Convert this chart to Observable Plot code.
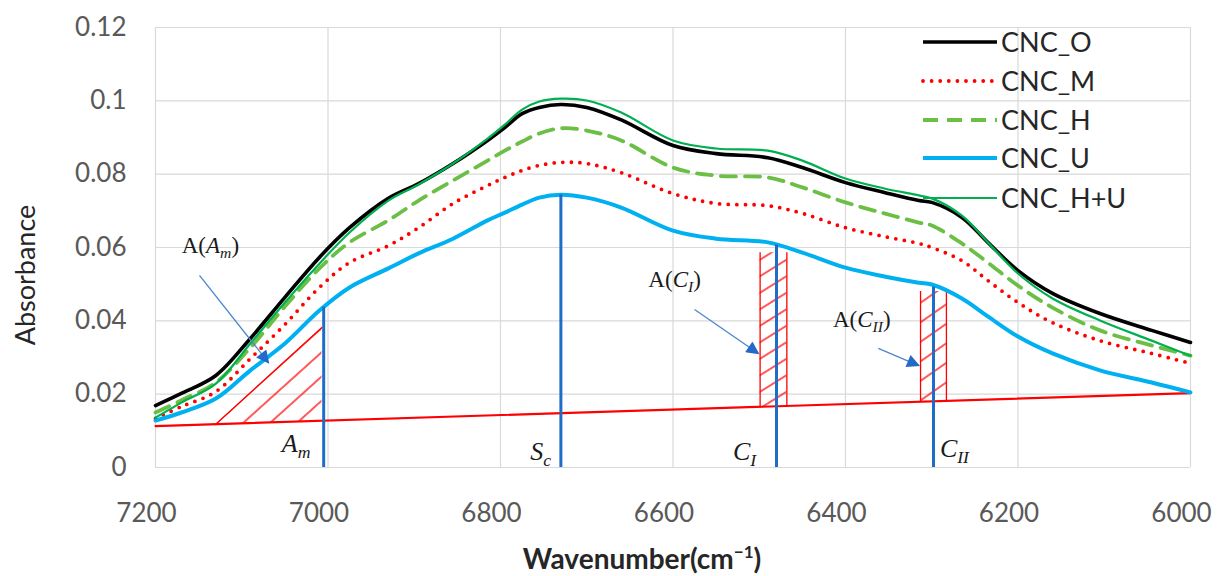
<!DOCTYPE html>
<html><head><meta charset="utf-8">
<script src="https://cdn.jsdelivr.net/npm/d3@7"></script>
<script src="https://cdn.jsdelivr.net/npm/@observablehq/plot@0.6"></script>
<style>html,body{margin:0;padding:0;background:#fff;}</style>
</head><body><div id="chart"></div>
<script>
// ---------- data ----------
const wavenumber = [7200, 7170, 7130, 7090, 7050, 7010, 6975, 6930, 6895, 6855, 6815, 6795, 6775, 6755, 6730, 6700, 6660, 6600, 6550, 6490, 6450, 6400, 6355, 6315, 6300, 6265, 6235, 6200, 6160, 6105, 6045, 6000];
const cncO  = [0.0169,0.0202,0.0251,0.0352,0.0464,0.0573,0.0654,0.0734,0.0774,0.0829,0.0892,0.0927,0.0965,0.0982,0.0990,0.0982,0.0948,0.0878,0.0856,0.0845,0.0818,0.0777,0.0750,0.0728,0.0723,0.0682,0.0614,0.0537,0.0475,0.0420,0.0374,0.0341];
const cncM  = [0.0134,0.0166,0.0207,0.0297,0.0390,0.0491,0.0559,0.0605,0.0654,0.0720,0.0769,0.0791,0.0810,0.0824,0.0832,0.0829,0.0804,0.0747,0.0720,0.0714,0.0693,0.0654,0.0630,0.0611,0.0600,0.0564,0.0510,0.0450,0.0395,0.0346,0.0311,0.0284];
const cncH  = [0.0150,0.0183,0.0232,0.0327,0.0439,0.0543,0.0614,0.0674,0.0728,0.0783,0.0837,0.0864,0.0889,0.0911,0.0925,0.0919,0.0892,0.0818,0.0796,0.0791,0.0764,0.0723,0.0693,0.0668,0.0660,0.0611,0.0559,0.0496,0.0436,0.0374,0.0333,0.0305];
const cncU  = [0.0128,0.0150,0.0188,0.0265,0.0338,0.0428,0.0491,0.0543,0.0584,0.0624,0.0674,0.0695,0.0717,0.0736,0.0744,0.0736,0.0709,0.0646,0.0624,0.0614,0.0586,0.0545,0.0521,0.0504,0.0499,0.0461,0.0412,0.0357,0.0311,0.0265,0.0232,0.0205];
const cncHU = [0.0136,0.0177,0.0229,0.0338,0.0450,0.0556,0.0641,0.0728,0.0772,0.0829,0.0897,0.0935,0.0976,0.0998,0.1006,0.1001,0.0968,0.0892,0.0870,0.0864,0.0837,0.0788,0.0761,0.0742,0.0734,0.0687,0.0614,0.0529,0.0461,0.0401,0.0346,0.0305];
const seriesNames = ["CNC_O", "CNC_M", "CNC_H", "CNC_U", "CNC_H+U"];
const seriesValues = [cncO, cncM, cncH, cncU, cncHU];

const xTicks = [7200, 7000, 6800, 6600, 6400, 6200, 6000];
const xTickLabels = ["7200", "7000", "6800", "6600", "6400", "6200", "6000"];
const yTicks = [0, 0.02, 0.04, 0.06, 0.08, 0.1, 0.12];
const yTickLabels = ["0", "0.02", "0.04", "0.06", "0.08", "0.1", "0.12"];

const baselineWn = [7200, 6000];
const baselineAbs = [0.0113, 0.0203];

const peakWn = [7005, 6730, 6480, 6298];
const peakTop = [0.0437, 0.0744, 0.0607, 0.0492];
const peakMain = ["A", "S", "C", "C"];
const peakSub = ["m", "c", "I", "II"];
const peakLabelWn = [7053, 6765, 6530, 6290];
const peakLabelAbs = [0.0041, 0.0019, 0.0019, 0.0027];

const hatchAmWn = [7130, 7007];
const hatchAmTop = [0.0118, 0.0382];
const hatchCIWn = [6499, 6468];
const hatchCITop = [0.0586, 0.0586];
const hatchCIIWn = [6313, 6283];
const hatchCIITop = [0.0480, 0.0480];

const arrowFromWn = [7149, 6575, 6362];
const arrowFromAbs = [0.0524, 0.0431, 0.0325];
const arrowToWn = [7069, 6501, 6315];
const arrowToAbs = [0.0286, 0.0311, 0.0278];
const areaLabelMain = ["A", "C", "C"];
const areaLabelSub = ["m", "I", "II"];
const areaLabelWn = [7169, 6628, 6414];
const areaLabelAbs = [0.0584, 0.0491, 0.0382];

// ---------- styles ----------
const lineStyle = {
  "CNC_O":   {stroke: "#000000", strokeWidth: 3.6},
  "CNC_M":   {stroke: "#ff0000", strokeWidth: 3.8, strokeDasharray: "0 8.6", strokeLinecap: "round"},
  "CNC_H":   {stroke: "#6cbf45", strokeWidth: 3.8, strokeDasharray: "15 9"},
  "CNC_U":   {stroke: "#00b0f0", strokeWidth: 4},
  "CNC_H+U": {stroke: "#00b050", strokeWidth: 2.2}
};

const baseline = d3.scaleLinear(baselineWn, baselineAbs);
const mk = (wns, tops) => wns.map((w, i) => ({w, b: baseline(w), t: tops[i]}));
const hatchAm = mk(hatchAmWn, hatchAmTop);
const hatchCI = mk(hatchCIWn, hatchCITop);
const hatchCII = mk(hatchCIIWn, hatchCIITop);
const baseData = baselineWn.map((w, i) => ({w, a: baselineAbs[i]}));
const peaks = peakWn.map((w, i) => ({w, t: peakTop[i]}));
const arrows = arrowFromWn.map((w, i) => ({x1: w, y1: arrowFromAbs[i], x2: arrowToWn[i], y2: arrowToAbs[i]}));

const curveMarks = seriesNames.map((name, k) =>
  Plot.line(wavenumber.map((w, i) => ({w, a: seriesValues[k][i]})),
    {x: "w", y: "a", curve: "catmull-rom", ...lineStyle[name]}));

const plot = Plot.plot({
  width: 1225, height: 576,
  marginLeft: 155, marginRight: 35, marginTop: 27, marginBottom: 109,
  style: {fontFamily: "Lato, 'Open Sans', sans-serif", fontSize: "26px", color: "#595959", background: "#ffffff", overflow: "visible"},
  x: {domain: [7200, 6000], ticks: xTicks, tickFormat: d => xTickLabels[xTicks.indexOf(d)], tickSize: 0, tickPadding: 36, label: null},
  y: {domain: [0, 0.12], ticks: yTicks, tickFormat: d => yTickLabels[yTicks.indexOf(d)], tickSize: 0, tickPadding: 29, label: null},
  marks: [
    Plot.ruleY(yTicks, {stroke: "#d9d9d9", strokeWidth: 1.2}),
    Plot.ruleX(xTicks, {stroke: "#d9d9d9", strokeWidth: 1.2}),
    Plot.area(hatchAm, {x1: "w", y1: "b", y2: "t", fill: "url(#hatchAm)"}),
    Plot.line(hatchAm, {x: "w", y: "t", stroke: "#ff0000", strokeWidth: 1.3}),
    Plot.area(hatchCI, {x1: "w", y1: "b", y2: "t", fill: "url(#hatchCI)"}),
    Plot.ruleX(hatchCI, {x: "w", y1: "b", y2: "t", stroke: "#ff0000", strokeWidth: 1.3}),
    Plot.area(hatchCII, {x1: "w", y1: "b", y2: "t", fill: "url(#hatchCII)"}),
    Plot.ruleX(hatchCII, {x: "w", y1: "b", y2: "t", stroke: "#ff0000", strokeWidth: 1.3}),
    Plot.line(baseData, {x: "w", y: "a", stroke: "#ff0000", strokeWidth: 2.2}),
    ...curveMarks,
    Plot.ruleX(peaks, {x: "w", y1: 0, y2: "t", stroke: "#1f6dc6", strokeWidth: 3}),
    Plot.link(arrows, {x1: "x1", y1: "y1", x2: "x2", y2: "y2", stroke: "#4a86cf", strokeWidth: 1.3})
  ]
});

document.getElementById("chart").appendChild(plot);
const svg = d3.select(plot);
const xs = plot.scale("x"), ys = plot.scale("y");

// defs: hatch patterns and arrow head
const defs = svg.insert("defs", ":first-child");
function hatch(id, angle, gap) {
  const p = defs.append("pattern").attr("id", id).attr("patternUnits", "userSpaceOnUse")
    .attr("width", 10).attr("height", gap).attr("patternTransform", `rotate(${-angle})`);
  p.append("line").attr("x1", 0).attr("y1", gap / 2).attr("x2", 10).attr("y2", gap / 2)
    .attr("stroke", "#ff0000").attr("stroke-width", 1.3);
}
hatch("hatchAm", 42, 18);
hatch("hatchCI", 32, 14);
hatch("hatchCII", 35, 16);
defs.append("marker").attr("id", "ahead").attr("viewBox", "0 0 10 10").attr("refX", 9).attr("refY", 5)
  .attr("markerWidth", 16).attr("markerHeight", 13).attr("markerUnits", "userSpaceOnUse").attr("orient", "auto")
  .append("path").attr("d", "M0,0L10,5L0,10Z").attr("fill", "#2468c8");
svg.selectAll('g[aria-label="link"] path').attr("marker-end", "url(#ahead)");

// shift x tick labels slightly left
svg.selectAll('g[aria-label="x-axis tick label"], g[aria-label="x-axis"]').each(function() {
  const g = d3.select(this);
  g.attr("transform", (g.attr("transform") || "") + " translate(-9,0)");
});

// annotation texts
const serif = "'Liberation Serif', 'DejaVu Serif', serif";
function label(x, y, pre, main, sub, post, size) {
  const t = svg.append("text").attr("x", x).attr("y", y).attr("font-family", serif)
    .attr("font-size", size).attr("fill", "#1a1a1a").attr("text-anchor", "start");
  if (pre) t.append("tspan").text(pre);
  t.append("tspan").attr("font-style", "italic").text(main);
  t.append("tspan").attr("font-style", "italic").attr("font-size", size * 0.68).attr("dy", size * 0.22).text(sub);
  if (post) t.append("tspan").attr("dy", -size * 0.22).text(post);
}
peakMain.forEach((m, i) => label(xs.apply(peakLabelWn[i]), ys.apply(peakLabelAbs[i]), "", m, peakSub[i], "", 26));
areaLabelMain.forEach((m, i) => label(xs.apply(areaLabelWn[i]), ys.apply(areaLabelAbs[i]), "A(", m, areaLabelSub[i], ")", 23));

// axis titles
const sans = "Lato, 'Open Sans', sans-serif";
svg.append("text").attr("transform", "translate(24,275) rotate(-90)").attr("text-anchor", "middle")
  .attr("dominant-baseline", "central").attr("font-family", sans).attr("font-size", 27).attr("fill", "#262626").text("Absorbance");
const xt = svg.append("text").attr("x", 642).attr("y", 569).attr("text-anchor", "middle")
  .attr("font-family", sans).attr("font-size", 28).attr("font-weight", "bold").attr("fill", "#262626");
xt.append("tspan").text("Wavenumber(cm");
xt.append("tspan").attr("font-size", 17).attr("dy", -11).text("\u22121");
xt.append("tspan").attr("dy", 11).text(")");

// legend
const legendY = [42, 81, 120, 158, 198];
const lg = svg.append("g");
seriesNames.forEach((name, i) => {
  const s = lineStyle[name];
  lg.append("line").attr("x1", 923).attr("x2", 997).attr("y1", legendY[i]).attr("y2", legendY[i])
    .attr("stroke", s.stroke).attr("stroke-width", s.strokeWidth)
    .attr("stroke-dasharray", s.strokeDasharray || null).attr("stroke-linecap", s.strokeLinecap || null);
  lg.append("text").attr("x", 1001).attr("y", legendY[i]).attr("dy", "0.36em").attr("text-anchor", "start")
    .attr("font-family", sans).attr("font-size", 27).attr("fill", "#262626").text(name);
});
</script>
</body></html>
